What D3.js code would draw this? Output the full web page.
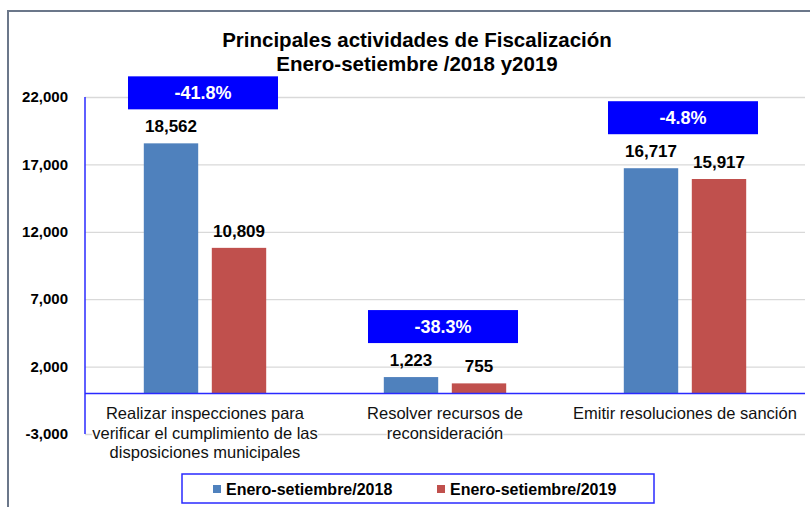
<!DOCTYPE html>
<html><head><meta charset="utf-8">
<script src="https://cdn.jsdelivr.net/npm/d3@7"></script>
<style>body{margin:0;background:#fff}svg{display:block;font-family:Arial,"Liberation Sans",sans-serif}</style>
</head><body><svg id="c" width="810" height="507"></svg>
<script>
const categories = [
  ["Realizar inspecciones para", "verificar el cumplimiento de las", "disposiciones municipales"],
  ["Resolver recursos de", "reconsideración"],
  ["Emitir resoluciones de sanción"]
];
const seriesNames = ["Enero-setiembre/2018", "Enero-setiembre/2019"];
const values2018 = [18562, 1223, 16717];
const values2019 = [10809, 755, 15917];
const changes = ["-41.8%", "-38.3%", "-4.8%"];
const yTicks = [-3000, 2000, 7000, 12000, 17000, 22000];
const colors = ["#4F81BD", "#C0504D"];

const fmt = d => d3.format(",")(d).replace("\u2212", "-");
const svg = d3.select("#c");
const L = 85, R = 805, T = 97, B = 434;

// frame
svg.append("path").attr("d", "M8,507 V11 H810").attr("fill", "none")
  .attr("stroke", "#6b778a").attr("stroke-width", 2);

// title
svg.append("text").attr("x", 417).attr("y", 47).attr("text-anchor", "middle")
  .attr("font-weight", "bold").attr("font-size", 20.5).text("Principales actividades de Fiscalización");
svg.append("text").attr("x", 417).attr("y", 71).attr("text-anchor", "middle")
  .attr("font-weight", "bold").attr("font-size", 20.5).text("Enero-setiembre /2018 y2019");

const y = d3.scaleLinear().domain([-3000, 22000]).range([B, T]);
const idx = categories.map((d, i) => i);
const x0 = d3.scaleBand().domain(idx).range([L, R]).paddingInner(0.49).paddingOuter(0.245);
const x1 = d3.scaleBand().domain([0, 1]).range([0, x0.bandwidth()]).paddingInner(0.2);

// gridlines
svg.append("g").attr("transform", `translate(${L},0)`)
  .call(d3.axisLeft(y).tickValues(yTicks).tickSize(-(R - L)).tickFormat(""))
  .call(g => g.select(".domain").remove())
  .call(g => g.selectAll("line").attr("stroke", "#d9d9d9").attr("stroke-width", 1.3));

// bars
const series = [values2018, values2019];
series.forEach((vals, s) => {
  svg.append("g").selectAll("rect").data(vals).join("rect")
    .attr("x", (d, i) => x0(i) + x1(s)).attr("width", x1.bandwidth())
    .attr("y", d => y(d)).attr("height", d => y(0) - y(d)).attr("fill", colors[s]);
  svg.append("g").selectAll("text").data(vals).join("text")
    .attr("x", (d, i) => x0(i) + x1(s) + x1.bandwidth() / 2).attr("y", d => y(d) - 11)
    .attr("text-anchor", "middle").attr("font-weight", "bold").attr("font-size", 17)
    .text(d => fmt(d));
});

// change boxes
changes.forEach((c, i) => {
  const top = y(Math.max(values2018[i], values2019[i])) - 34 - 33;
  const cx = x0(i) + x0.bandwidth() / 2 - 2;
  svg.append("rect").attr("x", cx - 75).attr("y", top).attr("width", 150).attr("height", 33).attr("fill", "#0000ff");
  svg.append("text").attr("x", cx).attr("y", top + 16.5).attr("dy", "0.35em").attr("text-anchor", "middle")
    .attr("fill", "#fff").attr("font-weight", "bold").attr("font-size", 18).text(c);
});

// category labels
categories.forEach((lines, i) => {
  const cx = x0(i) + x0.bandwidth() / 2;
  const g = svg.append("g");
  lines.forEach((ln, k) => {
    const t = g.append("text").attr("x", cx).attr("y", 419 + k * 19.5).attr("text-anchor", "middle")
      .attr("font-size", 16.5).attr("fill", "#111").text(ln);
    const bb = t.node().getBBox();
    g.insert("rect", "text").attr("x", bb.x).attr("y", bb.y).attr("width", bb.width).attr("height", bb.height).attr("fill", "#fff");
  });
});

// axes
svg.append("line").attr("x1", L).attr("x2", L).attr("y1", T).attr("y2", B).attr("stroke", "#2a2aff").attr("stroke-width", 1.5);
svg.append("line").attr("x1", L).attr("x2", R).attr("y1", y(0)).attr("y2", y(0)).attr("stroke", "#2a2aff").attr("stroke-width", 1.5);

// y tick labels
svg.append("g").selectAll("text").data(yTicks).join("text")
  .attr("x", 68).attr("y", d => y(d)).attr("dy", "0.35em").attr("text-anchor", "end")
  .attr("font-weight", "bold").attr("font-size", 15).text(d => fmt(d));

// legend
svg.append("rect").attr("x", 182).attr("y", 474).attr("width", 472).attr("height", 29)
  .attr("fill", "#fff").attr("stroke", "#2a2aff").attr("stroke-width", 1.5);
const lx = [213, 437];
seriesNames.forEach((n, s) => {
  svg.append("rect").attr("x", lx[s]).attr("y", 485).attr("width", 8).attr("height", 8).attr("fill", colors[s]);
  svg.append("text").attr("x", lx[s] + 13).attr("y", 489).attr("dy", "0.35em")
    .attr("font-weight", "bold").attr("font-size", 16).text(n);
});
</script></body></html>
